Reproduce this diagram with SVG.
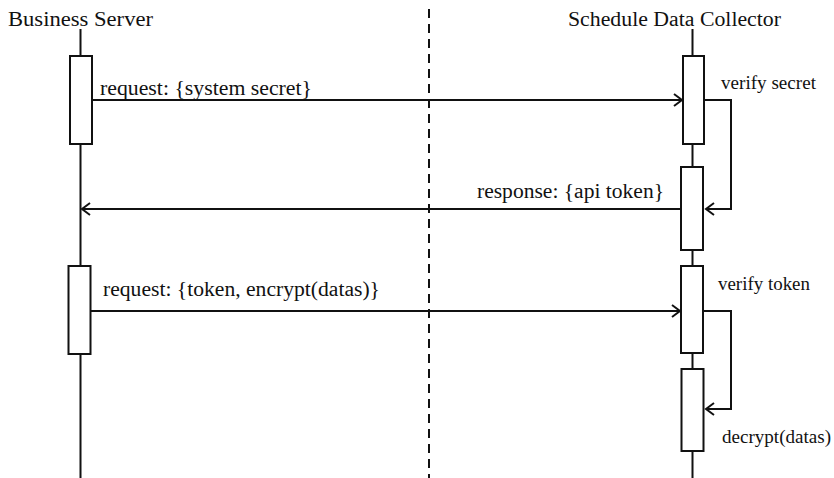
<svg xmlns="http://www.w3.org/2000/svg" width="834" height="478" viewBox="0 0 834 478" font-family="'Liberation Serif', 'DejaVu Serif', serif">
  <style>
    text { font-family: "Liberation Serif", "DejaVu Serif", serif; fill: #111; }
    .title { font-size: 20px; }
    .msg { font-size: 20.5px; }
    .note { font-size: 18.5px; }
    .life { stroke: #111; stroke-width: 2; fill: none; }
    .act { stroke: #111; stroke-width: 2; fill: #fff; }
    .conn { stroke: #111; stroke-width: 2; fill: none; marker-end: url(#open); }
    .divider { stroke: #111; stroke-width: 2; stroke-dasharray: 9 6; }
  </style>
  <defs>
    <marker id="open" markerUnits="userSpaceOnUse" markerWidth="14" markerHeight="16" viewBox="-10 -8 12 16" refX="0" refY="0" orient="auto">
      <path d="M -8 -6 L 0 0 L -8 6" fill="none" stroke="#111" stroke-width="2"/>
    </marker>
  </defs>

  <!-- zone divider -->
  <line class="divider" x1="429" y1="9" x2="429" y2="478"/>

  <!-- participant: Business Server -->
  <g id="business-server">
    <text class="title" x="8" y="25.5" textLength="145" lengthAdjust="spacingAndGlyphs">Business  Server</text>
    <line class="life" x1="80.5" y1="29" x2="80.5" y2="478"/>
    <rect class="act" x="70" y="56" width="22" height="88"/>
    <rect class="act" x="68.5" y="266" width="22" height="88"/>
  </g>

  <!-- participant: Schedule Data Collector -->
  <g id="schedule-data-collector">
    <text class="title" x="568" y="25.5" textLength="213" lengthAdjust="spacingAndGlyphs">Schedule Data Collector</text>
    <line class="life" x1="692.5" y1="29" x2="692.5" y2="478"/>
    <rect class="act" x="683" y="56" width="21" height="88"/>
    <rect class="act" x="681" y="167" width="22" height="83"/>
    <rect class="act" x="681" y="266" width="22" height="87"/>
    <rect class="act" x="681.5" y="369" width="22" height="82"/>
  </g>

  <!-- messages -->
  <g id="connectors">
    <line class="conn" x1="93" y1="100" x2="682" y2="100"/>
    <path class="conn" d="M 704 100 H 731 V 209 H 706"/>
    <line class="conn" x1="681" y1="209" x2="82" y2="209"/>
    <line class="conn" x1="91" y1="311" x2="680" y2="311"/>
    <path class="conn" d="M 703 311 H 731 V 409 H 706"/>
  </g>

  <!-- message labels -->
  <g id="labels">
    <text class="msg" x="100" y="95" textLength="212" lengthAdjust="spacingAndGlyphs">request:  {system secret}</text>
    <text class="note" x="721" y="89" textLength="95" lengthAdjust="spacingAndGlyphs">verify secret</text>
    <text class="msg" x="477" y="198" textLength="187" lengthAdjust="spacingAndGlyphs">response:  {api token}</text>
    <text class="note" x="718" y="290" textLength="92" lengthAdjust="spacingAndGlyphs">verify token</text>
    <text class="msg" x="103" y="296" textLength="277" lengthAdjust="spacingAndGlyphs">request:  {token, encrypt(datas)}</text>
    <text class="note" x="722" y="442.5" textLength="109" lengthAdjust="spacingAndGlyphs">decrypt(datas)</text>
  </g>
</svg>
